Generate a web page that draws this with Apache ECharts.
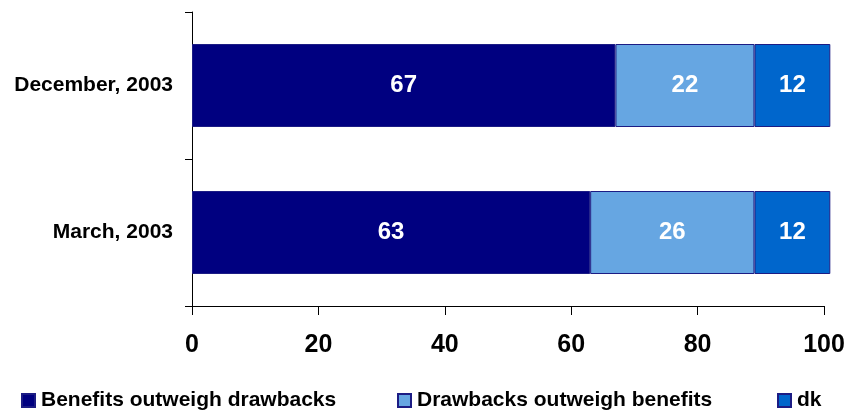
<!DOCTYPE html>
<html>
<head>
<meta charset="utf-8">
<script src="https://cdn.jsdelivr.net/npm/echarts@6/dist/echarts.min.js"></script>
<style>
  html, body { margin: 0; padding: 0; background: #ffffff; }
  #chart { width: 850px; height: 413px; }
</style>
</head>
<body>
<div id="chart"></div>
<script>
// Survey periods (bottom to top on the category axis)
const categories = ['March, 2003', 'December, 2003'];

// Percentages per answer
const benefits = [63, 67];
const drawbacks = [26, 22];
const dontKnow = [12, 12];

const seriesNames = ['Benefits outweigh drawbacks', 'Drawbacks outweigh benefits', 'dk'];
const seriesColors = ['#000080', '#66a6e2', '#0066cc'];
const seriesValues = [benefits, drawbacks, dontKnow];

const FONT = 'Liberation Sans, Arial, sans-serif';

const chart = echarts.init(document.getElementById('chart'), null, { renderer: 'canvas' });

// one legend block per answer, spread along the bottom edge
const legendLefts = [16, 392, 772];

chart.setOption({
  animation: false,
  textStyle: { fontFamily: FONT },
  grid: { left: 192, right: 26, top: 12, bottom: 107, containLabel: false },
  legend: seriesNames.map((name, i) => ({
    data: [name],
    left: legendLefts[i],
    top: 385,
    itemWidth: 13,
    itemHeight: 13,
    itemGap: 6,
    icon: 'rect',
    textStyle: { fontFamily: FONT, fontSize: 21, fontWeight: 'bold', color: '#000', padding: [0, 0, 0, 1] },
    selectedMode: false
  })),
  xAxis: {
    type: 'value',
    min: 0,
    max: 100,
    interval: 20,
    splitLine: { show: false },
    axisLine: { show: true, lineStyle: { color: '#000', width: 1 } },
    axisTick: { show: true, length: 9, lineStyle: { color: '#000' } },
    axisLabel: { fontFamily: FONT, fontSize: 25, fontWeight: 'bold', color: '#000', margin: 27 }
  },
  yAxis: {
    type: 'category',
    data: categories,
    axisLine: { show: true, lineStyle: { color: '#000', width: 1 } },
    axisTick: { show: true, length: 7, alignWithLabel: false, lineStyle: { color: '#000' } },
    axisLabel: { fontFamily: FONT, fontSize: 21, fontWeight: 'bold', color: '#000', margin: 19 }
  },
  series: seriesNames.map((name, i) => ({
    name: name,
    type: 'bar',
    stack: 'total',
    clip: false,
    barWidth: 83,
    data: seriesValues[i],
    itemStyle: { color: seriesColors[i], borderColor: '#1c1c84', borderWidth: 1 },
    label: {
      show: true,
      position: 'inside',
      color: '#fff',
      fontFamily: FONT,
      fontSize: 24,
      fontWeight: 'bold'
    }
  }))
});
</script>
</body>
</html>
